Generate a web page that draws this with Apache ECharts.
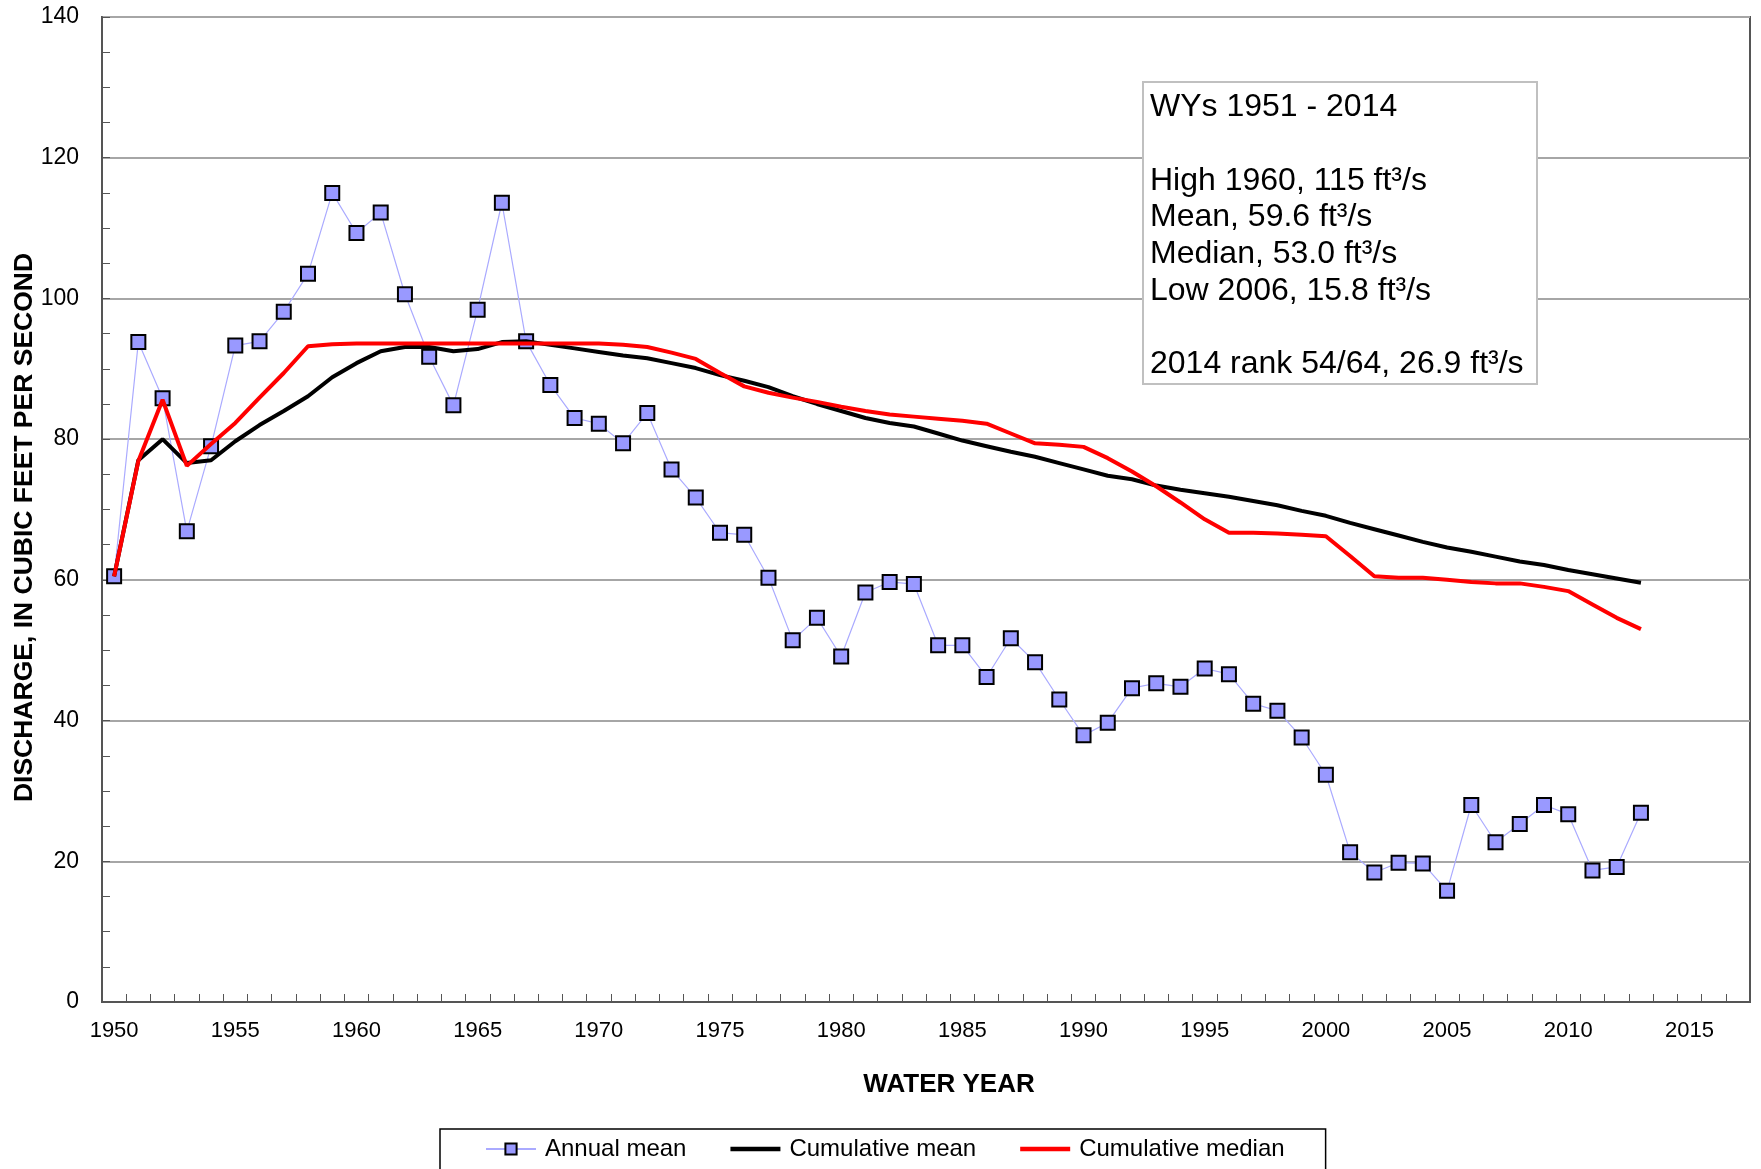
<!DOCTYPE html>
<html>
<head>
<meta charset="utf-8">
<script src="https://cdn.jsdelivr.net/npm/echarts@6/dist/echarts.min.js"></script>
<style>
    html, body { margin: 0; background: #fff; }
    #chart { width: 1761px; height: 1169px; }
</style>
</head>
<body>
<div id="chart"></div>
<script>
// plotted water-year positions (Excel category axis, 1950 - 2017)
const years = [
    '1950', '1951', '1952', '1953', '1954', '1955', '1956', '1957', '1958', '1959',
    '1960', '1961', '1962', '1963', '1964', '1965', '1966', '1967', '1968', '1969',
    '1970', '1971', '1972', '1973', '1974', '1975', '1976', '1977', '1978', '1979',
    '1980', '1981', '1982', '1983', '1984', '1985', '1986', '1987', '1988', '1989',
    '1990', '1991', '1992', '1993', '1994', '1995', '1996', '1997', '1998', '1999',
    '2000', '2001', '2002', '2003', '2004', '2005', '2006', '2007', '2008', '2009',
    '2010', '2011', '2012', '2013', '2014', '2015', '2016', '2017'
];

const annualMean = [
    60.5, 93.8, 85.8, 66.9, 79.0, 93.3, 93.9, 98.1, 103.5, 115.0,
    109.3, 112.2, 100.6, 91.7, 84.8, 98.4, 113.6, 93.9, 87.7, 83.0,
    82.2, 79.4, 83.7, 75.7, 71.7, 66.7, 66.4, 60.3, 51.4, 54.6,
    49.1, 58.2, 59.7, 59.4, 50.7, 50.7, 46.2, 51.7, 48.3, 43.0,
    37.9, 39.7, 44.6, 45.3, 44.8, 47.4, 46.6, 42.4, 41.4, 37.6,
    32.3, 21.3, 18.4, 19.8, 19.7, 15.8, 28.0, 22.7, 25.3, 28.0,
    26.7, 18.7, 19.2, 26.9
];

const cumulativeMean = [
    60.5, 77.0, 80.0, 76.6, 77.0, 79.7, 82.0, 84.0, 86.1, 88.8,
    90.8, 92.5, 93.1, 93.1, 92.5, 92.8, 93.8, 93.9, 93.4, 92.9,
    92.4, 91.9, 91.5, 90.8, 90.1, 89.1, 88.3, 87.4, 86.1, 85.0,
    84.0, 83.0, 82.3, 81.8, 80.8, 79.8, 79.0, 78.2, 77.5, 76.6,
    75.7, 74.8, 74.3, 73.4, 72.8, 72.3, 71.8, 71.2, 70.6, 69.8,
    69.1, 68.1, 67.2, 66.3, 65.4, 64.6, 64.0, 63.3, 62.6, 62.1,
    61.4, 60.8, 60.2, 59.6
];

const cumulativeMedian = [
    60.5, 76.9, 85.6, 76.2, 79.3, 82.3, 85.9, 89.4, 93.2, 93.5,
    93.6, 93.6, 93.6, 93.6, 93.6, 93.6, 93.6, 93.6, 93.6, 93.6,
    93.6, 93.4, 93.1, 92.3, 91.4, 89.4, 87.5, 86.6, 85.9, 85.3,
    84.6, 84.0, 83.5, 83.2, 82.9, 82.6, 82.2, 80.8, 79.4, 79.2,
    78.9, 77.3, 75.4, 73.3, 71.0, 68.6, 66.7, 66.7, 66.6, 66.4,
    66.2, 63.4, 60.5, 60.3, 60.3, 60.0, 59.7, 59.5, 59.5, 59.0,
    58.4, 56.5, 54.6, 53.0
];

const statsLines = [
    'WYs 1951 - 2014',
    '',
    'High 1960, 115 ft³/s',
    'Mean, 59.6 ft³/s',
    'Median, 53.0 ft³/s',
    'Low 2006, 15.8 ft³/s',
    '',
    '2014 rank 54/64, 26.9 ft³/s'
];

const font = "'Liberation Sans', Arial, sans-serif";
const axisColor = '#555';
// plain thick bar used as legend icon for the two cumulative lines
const lineIcon = 'path://M0,0H50V4.5H0Z';

const chart = echarts.init(document.getElementById('chart'), null, { renderer: 'canvas' });
chart.setOption({
    backgroundColor: '#fff',
    animation: false,
    textStyle: { fontFamily: font, color: '#000' },
    grid: {
        left: 102,
        right: 11,
        top: 17,
        bottom: 167,
        show: true,
        borderColor: axisColor,
        borderWidth: 2,
        containLabel: false,
        outerBoundsMode: 'none'
    },
    xAxis: {
        type: 'category',
        data: years,
        boundaryGap: true,
        name: 'WATER YEAR',
        nameLocation: 'middle',
        nameGap: 70,
        nameMoveOverlap: false,
        nameTextStyle: { fontSize: 26, fontWeight: 'bold', color: '#000', padding: [0, 0, 0, 46] },
        axisLine: { lineStyle: { color: axisColor, width: 2 } },
        axisTick: { show: true, inside: true, interval: 0, length: 8, lineStyle: { color: axisColor, width: 1 } },
        axisLabel: { interval: 4, fontSize: 22, color: '#000', margin: 18 },
        splitLine: { show: false }
    },
    yAxis: {
        type: 'value',
        min: 0,
        max: 140,
        interval: 20,
        name: 'DISCHARGE, IN CUBIC FEET PER SECOND',
        nameLocation: 'middle',
        nameGap: 64,
        nameMoveOverlap: false,
        nameTextStyle: { fontSize: 26.5, fontWeight: 'bold', color: '#000', padding: [0, 0, 0, -36] },
        axisLine: { show: true, lineStyle: { color: axisColor, width: 2 } },
        axisTick: { show: true, inside: true, length: 8, lineStyle: { color: axisColor, width: 1 } },
        minorTick: { show: true, splitNumber: 4, length: 8, lineStyle: { color: axisColor, width: 1 } },
        axisLabel: { fontSize: 23, color: '#000', margin: 23 },
        splitLine: { show: true, lineStyle: { color: '#a6a6a6', width: 2 } }
    },
    legend: {
        left: 440,
        top: 1129,
        padding: [8, 41, 30, 45],
        itemWidth: 50,
        itemHeight: 14,
        itemGap: 44,
        borderColor: '#000',
        borderWidth: 1.5,
        textStyle: { fontSize: 24, color: '#000', padding: [0, 0, 0, 4] },
        data: [
            { name: 'Annual mean' },
            { name: 'Cumulative mean', icon: lineIcon },
            { name: 'Cumulative median', icon: lineIcon }
        ]
    },
    graphic: [
        {
            type: 'rect',
            left: 1142,
            top: 81,
            shape: { width: 394, height: 302 },
            style: { fill: '#fff', stroke: '#c0c0c0', lineWidth: 2 },
            z: 10
        },
        {
            type: 'text',
            left: 1150,
            top: 89,
            style: {
                text: statsLines.join('\n'),
                font: '32px ' + font,
                lineHeight: 36.7,
                fill: '#000'
            },
            z: 11
        }
    ],
    series: [
        {
            name: 'Annual mean',
            type: 'line',
            data: annualMean,
            symbol: 'rect',
            symbolSize: 14,
            lineStyle: { color: '#aaaaff', width: 1.2 },
            itemStyle: { color: '#9999ff', borderColor: '#000', borderWidth: 2 },
            z: 2
        },
        {
            name: 'Cumulative mean',
            type: 'line',
            data: cumulativeMean,
            showSymbol: false,
            symbol: 'none',
            lineStyle: { color: '#000', width: 4 },
            itemStyle: { color: '#000' },
            z: 3
        },
        {
            name: 'Cumulative median',
            type: 'line',
            data: cumulativeMedian,
            showSymbol: false,
            symbol: 'none',
            lineStyle: { color: '#ff0000', width: 4 },
            itemStyle: { color: '#ff0000' },
            z: 4
        }
    ]
});
</script>
</body>
</html>
